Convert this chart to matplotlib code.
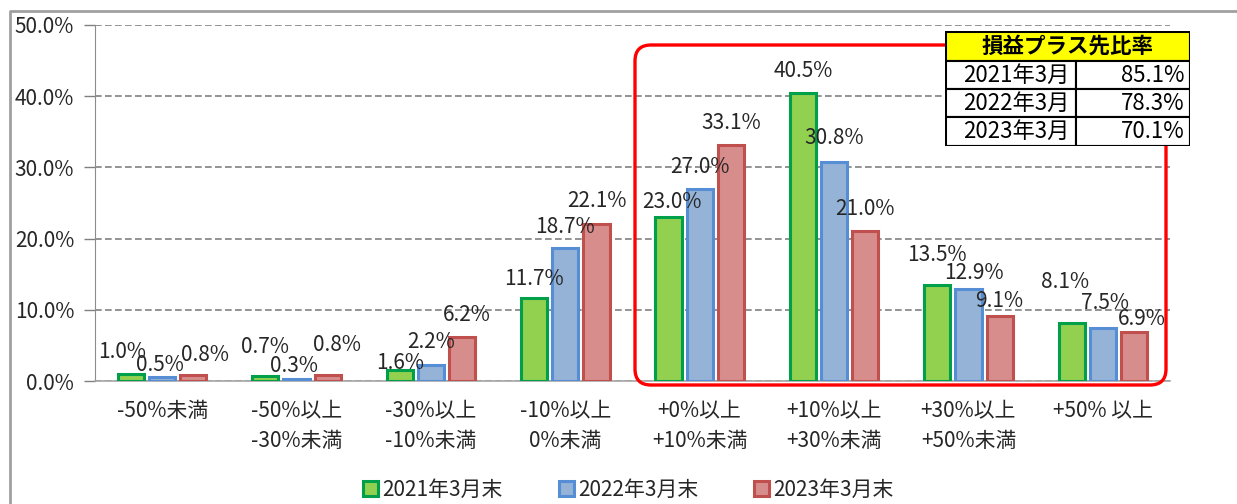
import numpy as np
import matplotlib
matplotlib.use("Agg")
import matplotlib.pyplot as plt
from matplotlib.patches import Rectangle, FancyBboxPatch, Patch
from matplotlib.ticker import FuncFormatter

plt.rcParams['font.family'] = ['Noto Sans CJK JP', 'DejaVu Sans']

# data
categories = ['-50%未満', '-50%以上\n-30%未満', '-30%以上\n-10%未満', '-10%以上\n0%未満',
              '+0%以上\n+10%未満', '+10%以上\n+30%未満', '+30%以上\n+50%未満', '+50% 以上']
series_names = ['2021年3月末', '2022年3月末', '2023年3月末']
v2021 = [1.0, 0.7, 1.6, 11.7, 23.0, 40.5, 13.5, 8.1]
v2022 = [0.5, 0.3, 2.2, 18.7, 27.0, 30.8, 12.9, 7.5]
v2023 = [0.8, 0.8, 6.2, 22.1, 33.1, 21.0, 9.1, 6.9]
table_title = '損益プラス先比率'
table_years = ['2021年3月', '2022年3月', '2023年3月']
table_ratio = ['85.1%', '78.3%', '70.1%']

# label nudges (pixels) to mimic hand-placed labels
label_dx = [[-9, 0, 0, 0, 3, 0, 0, -7],
            [-2, -3, 0, 0, 0, 0, 6, 2],
            [12, 9, 5, 0, 0, 0, 0, 8]]
label_dy = [[22, 29, 7, 19, 15, 22, 30, 41],
            [12, 13, 23, 21, 22, 24, 16, 25],
            [20, 30, 22, 23, 22, 22, 15, 13]]

fills = ['#92D050', '#95B3D7', '#D78D8C']
edges = ['#00A04A', '#558ED5', '#C0504D']
txt = '#262626'
fs = 15

W, H = 1237, 504
fig = plt.figure(figsize=(W / 100, H / 100), dpi=100)
ax = fig.add_axes([95 / W, (H - 381) / H, (1170 - 95) / W, (381 - 25) / H])

x = np.arange(len(categories))
step, bw = 0.232, 0.195
for j, vals in enumerate([v2021, v2022, v2023]):
    pos = x + (j - 1) * step
    ax.bar(pos, vals, bw, color=fills[j], edgecolor=edges[j], linewidth=2.2, zorder=3)
    for i, v in enumerate(vals):
        ax.annotate(f'{v:.1f}%', (pos[i], v), xytext=(label_dx[j][i], label_dy[j][i]),
                    textcoords='offset pixels', ha='center', va='center',
                    fontsize=fs, color=txt, zorder=4)

ax.set_xlim(-0.5, len(categories) - 0.5)
ax.set_ylim(0, 50)
ax.set_yticks(np.arange(0, 51, 10))
ax.yaxis.set_major_formatter(FuncFormatter(lambda v, p: f'{v:.1f}%'))
ax.set_xticks(x)
ax.set_xticklabels(categories, linespacing=1.45)
ax.tick_params(axis='x', length=0, pad=14, labelsize=fs, labelcolor=txt)
ax.tick_params(axis='y', length=8, width=1, color='#808080', pad=7, labelsize=fs, labelcolor=txt)
ax.grid(axis='y', color='#808080', linestyle=(0, (4, 2)), linewidth=1.2, zorder=1)
for s in ['top', 'right']:
    ax.spines[s].set_visible(False)
ax.spines['left'].set_color('#8C8C8C')
ax.spines['bottom'].set_color('#A6A6A6')
ax.spines['bottom'].set_linewidth(1.2)

handles = [Patch(facecolor=fills[j], edgecolor=edges[j], linewidth=2.2) for j in range(3)]
fig.legend(handles, series_names, loc='center', bbox_to_anchor=(0.508, 0.028), ncol=3,
           frameon=False, fontsize=fs, handlelength=0.72, handleheight=0.72,
           handletextpad=0.2, columnspacing=2.7, labelcolor=txt)

# overlay in pixel coordinates: outer frame and red highlight box
ov = fig.add_axes([0, 0, 1, 1])
ov.set_xlim(0, W)
ov.set_ylim(H, 0)
ov.axis('off')
ov.set_zorder(2)
ov.patch.set_alpha(0)
ov.plot([10, 10, W + 5], [H + 5, 11, 11], color='#A0A0A0', linewidth=2)
ov.add_patch(FancyBboxPatch((635, 45), 1166 - 635, 385 - 45,
                            boxstyle='round,pad=0,rounding_size=16',
                            facecolor='none', edgecolor='#FF0000', linewidth=2.4))

# summary table
tx0, ty0, tw, th = 945, 31, 245, 115
tab = fig.add_axes([tx0 / W, (H - ty0 - th) / H, tw / W, th / H])
tab.set_xlim(0, tw)
tab.set_ylim(th, 0)
tab.axis('off')
tab.set_zorder(3)
row_h = [30, 28, 28, 29]
col_split = 131
tab.add_patch(Rectangle((0, 0), tw, row_h[0], facecolor='#FFFF00', edgecolor='black', linewidth=1.5))
tab.text(tw / 2, row_h[0] / 2, table_title, ha='center', va='center', fontsize=15.5,
         fontweight='bold', color='black')
y = row_h[0]
for k in range(3):
    h = row_h[k + 1]
    tab.add_patch(Rectangle((0, y), col_split, h, facecolor='white', edgecolor='black', linewidth=1.5))
    tab.add_patch(Rectangle((col_split, y), tw - col_split, h, facecolor='white',
                            edgecolor='black', linewidth=1.5))
    tab.text(col_split - 7, y + h / 2, table_years[k], ha='right', va='center', fontsize=16, color='black')
    tab.text(tw - 5, y + h / 2, table_ratio[k], ha='right', va='center', fontsize=16, color='black')
    y += h
tab.add_patch(Rectangle((0, 0), tw, th, facecolor='none', edgecolor='black', linewidth=2.2))

fig.savefig('out.png', dpi=100)
